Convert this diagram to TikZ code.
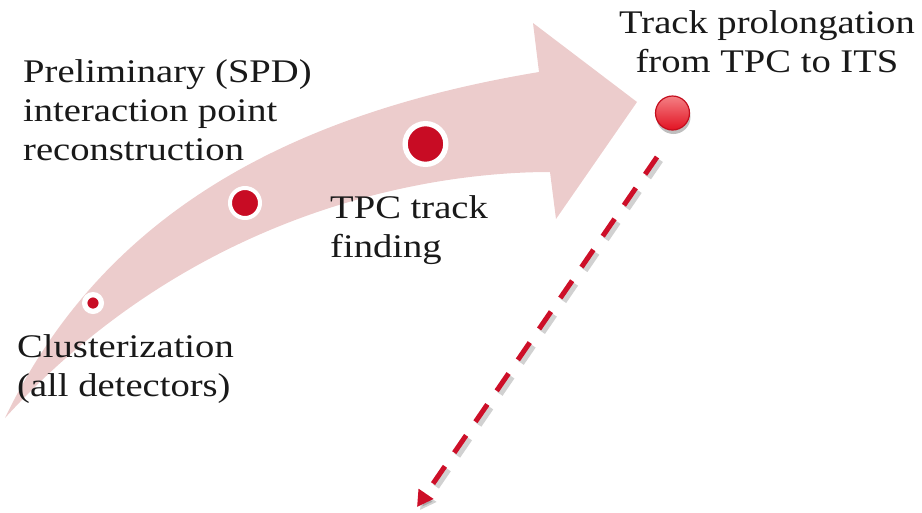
\documentclass[tikz,border=0pt]{standalone}
\usepackage{fontspec}
\setmainfont{Liberation Serif}[FakeStretch=1.17]
\usetikzlibrary{arrows.meta,shadows,shapes.geometric}
\definecolor{arrowpink}{RGB}{236,204,204}
\definecolor{dotred}{RGB}{200,12,36}
\definecolor{dashred}{RGB}{205,15,40}
\definecolor{balltop}{RGB}{244,128,132}
\definecolor{ballbot}{RGB}{226,18,34}
\definecolor{ballrim}{RGB}{196,14,30}
\definecolor{txt}{RGB}{25,25,25}
\tikzset{
  label text/.style={font=\fontsize{33}{39}\selectfont, text=txt, inner sep=0pt, align=left},
  stagedot/.style={circle, fill=dotred, draw=white, inner sep=0pt},
  goalball/.style={circle, minimum size=34pt, inner sep=0pt, draw=ballrim, line width=1.2pt,
     top color=balltop, bottom color=ballbot,
     drop shadow={shadow xshift=1pt, shadow yshift=-4pt, opacity=0.25, fill=black}},
  dashline/.style={draw=dashred, line width=5pt, dash pattern=on 21pt off 16.5pt,
     -{Triangle[length=16pt,width=17pt]}},
  dashshadow/.style={draw=black, opacity=0.18, line width=7pt, dash pattern=on 21pt off 16.5pt,
     -{Triangle[length=16pt,width=17pt]}}
}
\begin{document}
\begin{tikzpicture}[x=1pt,y=-1pt]
\useasboundingbox (0,0) rectangle (922,512);
% big curved arrow
\path[fill=arrowpink]
  (5,418) .. controls (100,220) and (280,115) .. (539,72)
  -- (533,23) -- (637,102) -- (556,219) -- (550,172)
  .. controls (420,172) and (190,215) .. (5,418) -- cycle;
% stage dots
\node[stagedot, minimum size=16.7pt, line width=5.3pt] (d1) at (93,303) {};
\node[stagedot, minimum size=30pt, line width=4pt] (d2) at (245,203) {};
\node[stagedot, minimum size=40.7pt, line width=5.3pt] (d3) at (425.5,144) {};
\node[goalball] (ball) at (672.5,113) {};
% dashed arrow
\coordinate (ds) at (657,157);
\coordinate (de) at (417,507);
\coordinate (dss) at (660,160);
\coordinate (des) at (420,510);
\draw[dashshadow] (dss) -- (des);
\draw[dashline] (ds) -- (de);
% texts (base anchor = baseline of the last line)
\node[label text, anchor=base west] (t1) at (23,160) {Preliminary (SPD)\\interaction point\\reconstruction};
\node[label text, anchor=base west] (t2) at (330,257) {TPC track\\finding};
\node[label text, anchor=base west] (t3) at (17,396) {Clusterization\\(all detectors)};
\node[label text, anchor=base, align=center] (t4) at (767,72) {Track prolongation\\from TPC to ITS};
\end{tikzpicture}
\end{document}
